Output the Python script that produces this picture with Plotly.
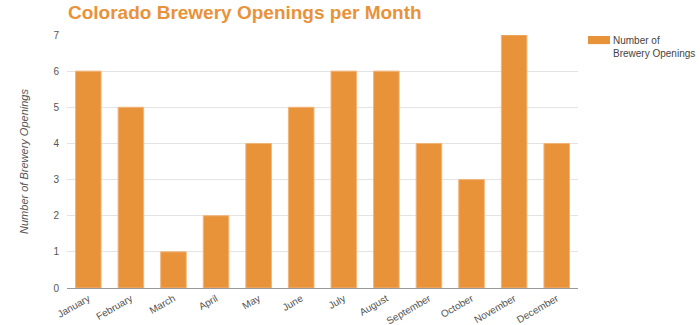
import plotly.graph_objects as go

months = ["January", "February", "March", "April", "May", "June", "July",
          "August", "September", "October", "November", "December"]
openings = [6, 5, 1, 2, 4, 5, 6, 6, 4, 3, 7, 4]
series_name = "Number of<br>Brewery Openings"

orange = "#E8923A"
font_family = "Liberation Sans, Arial, sans-serif"

fig = go.Figure()
fig.add_trace(go.Bar(
    x=months, y=openings, name=series_name,
    marker=dict(color=orange, line=dict(color="#F2B57A", width=1)),
    width=0.6, showlegend=False,
))

# Legend swatch and label drawn beside the plot area
fig.add_shape(type="rect", xref="paper", yref="paper",
              x0=1.0196, x1=1.0626, y0=0.964, y1=0.996,
              fillcolor=orange, line=dict(width=0))
fig.add_annotation(xref="paper", yref="paper", x=1.064, y=1.006,
                   xanchor="left", yanchor="top", align="left",
                   text=series_name, showarrow=False,
                   font=dict(family=font_family, size=10, color="#444444"))

fig.update_layout(
    width=700, height=325,
    margin=dict(l=67, r=122, t=35, b=37),
    paper_bgcolor="white", plot_bgcolor="white",
    title=dict(text="<b>Colorado Brewery Openings per Month</b>",
               x=68 / 700, xanchor="left", y=0.962, yanchor="middle",
               font=dict(family=font_family, size=19, color=orange)),
    bargap=0.4,
    xaxis=dict(tickangle=-30, showgrid=False, showline=True, automargin=False,
               linecolor="#999999", linewidth=1, ticks="",
               tickfont=dict(family=font_family, size=10, color="#555555")),
    yaxis=dict(range=[0, 7], dtick=1, showgrid=True, gridcolor="#E3E3E3",
               zeroline=False, showline=False, ticks="", automargin=False,
               ticklabelstandoff=7,
               tickfont=dict(family=font_family, size=10, color="#555555"),
               title=dict(text="<i>Number of Brewery Openings</i>",
                          font=dict(family=font_family, size=11, color="#555555"),
                          standoff=22)),
)

fig.write_html("out.html")
